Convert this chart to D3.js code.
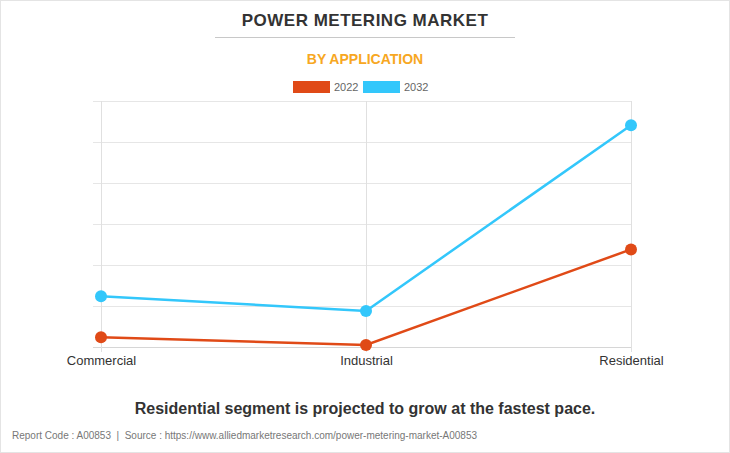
<!DOCTYPE html>
<html><head><meta charset="utf-8">
<script src="https://cdn.jsdelivr.net/npm/d3@7"></script>
<style>
html,body{margin:0;padding:0;background:#fff;}
svg{display:block;font-family:"Liberation Sans",Arial,sans-serif;}
</style></head><body>
<script>
const categories = ["Commercial", "Industrial", "Residential"];
const years = ["2022", "2032"];
const values2022 = [0.24, 0.05, 2.38];
const values2032 = [1.24, 0.88, 5.41];
const yTicks = [0, 1, 2, 3, 4, 5, 6];
const colors = ["#e04a17", "#33c7fb"];

const W = 730, H = 453;
const svg = d3.select("body").append("svg").attr("width", W).attr("height", H);
svg.append("rect").attr("x",0.5).attr("y",0.5).attr("width",W-1).attr("height",H-1)
  .attr("fill","#fff").attr("stroke","#e4e4e4");

svg.append("text").attr("x",365).attr("y",26).attr("text-anchor","middle")
  .attr("font-size",17).attr("font-weight","bold").attr("fill","#333")
  .attr("letter-spacing","0.5").text("POWER METERING MARKET");
svg.append("line").attr("x1",215).attr("x2",515).attr("y1",37.5).attr("y2",37.5)
  .attr("stroke","#c8c8c8");
svg.append("text").attr("x",365).attr("y",64).attr("text-anchor","middle")
  .attr("font-size",14).attr("font-weight","bold").attr("fill","#f7a722").text("BY APPLICATION");

// legend
const leg = svg.append("g");
[[293,334],[363,404]].forEach((p,i)=>{
  leg.append("rect").attr("x",p[0]).attr("y",81).attr("width",37).attr("height",12).attr("fill",colors[i]);
  leg.append("text").attr("x",p[1]).attr("y",91).attr("font-size",11).attr("fill","#666").text(years[i]);
});

const x = d3.scalePoint().domain(categories).range([101, 631]).padding(0);
const y = d3.scaleLinear().domain([0, 6]).range([347, 101]);

const g = svg.append("g");
g.selectAll(".hg").data(yTicks).join("line")
  .attr("x1",93).attr("x2",631).attr("y1",d=>Math.round(y(d))+0.5).attr("y2",d=>Math.round(y(d))+0.5)
  .attr("stroke",d=>d===0?"#d6d6d6":"#e6e6e6");
g.selectAll(".vg").data(categories).join("line")
  .attr("x1",d=>Math.round(x(d))+0.5).attr("x2",d=>Math.round(x(d))+0.5).attr("y1",101).attr("y2",352)
  .attr("stroke","#e0e0e0");

const xAxis = d3.axisBottom(x).tickSize(0).tickPadding(0);
const xa = svg.append("g").attr("transform","translate(0,347)").call(xAxis);
xa.select(".domain").remove();
xa.selectAll("text").attr("font-size",13).attr("fill","#333").attr("dy","18").attr("font-family","Liberation Sans, Arial, sans-serif");

const series = [values2022, values2032];
const line = d3.line().x((d,i)=>x(categories[i])).y(d=>y(d));
series.forEach((s,i)=>{
  svg.append("path").attr("d",line(s)).attr("fill","none").attr("stroke",colors[i]).attr("stroke-width",2.5);
  svg.selectAll(".p"+i).data(s).join("circle")
    .attr("cx",(d,j)=>x(categories[j])).attr("cy",d=>y(d)).attr("r",6).attr("fill",colors[i]);
});

svg.append("text").attr("x",365).attr("y",414).attr("text-anchor","middle")
  .attr("font-size",16).attr("font-weight","bold").attr("fill","#333")
  .text("Residential segment is projected to grow at the fastest pace.");
svg.append("text").attr("x",12).attr("y",439).attr("font-size",10).attr("fill","#777")
  .attr("xml:space","preserve").style("white-space","pre")
  .text("Report Code : A00853  |  Source : https://www.alliedmarketresearch.com/power-metering-market-A00853");
</script>
</body></html>
